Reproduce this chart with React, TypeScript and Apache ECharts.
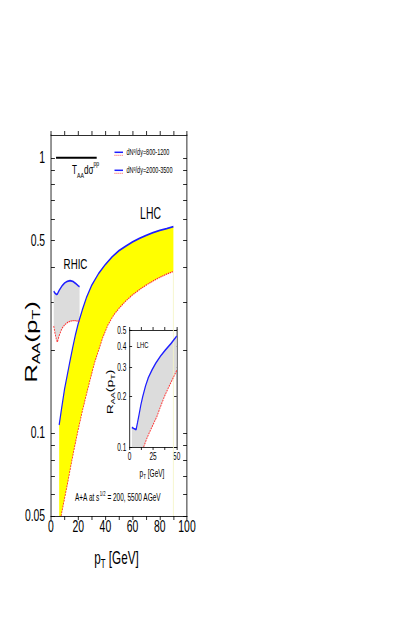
import React, { useEffect, useRef } from "react";
import * as echarts from "echarts";

// ---- data (values of R_AA) ----
const lhcLowDensPt = [6, 8, 10, 12, 14, 16, 18, 20, 23, 26, 30, 35, 40, 45, 50, 55, 60, 65, 70, 75, 80, 85, 90];
const lhcLowDensRaa = [0.107, 0.125, 0.145, 0.163, 0.183, 0.205, 0.228, 0.25, 0.28, 0.31, 0.345, 0.38, 0.41, 0.437, 0.46, 0.478, 0.495, 0.51, 0.523, 0.535, 0.545, 0.553, 0.562];
const lhcHighDensPt = [7.4, 10, 12.5, 15, 17.5, 20, 23, 26, 29, 32, 35, 38, 42, 46, 50, 55, 60, 65, 70, 75, 80, 85, 90];
const lhcHighDensRaa = [0.05, 0.058, 0.067, 0.078, 0.09, 0.103, 0.12, 0.138, 0.158, 0.18, 0.2, 0.222, 0.248, 0.268, 0.284, 0.302, 0.318, 0.332, 0.345, 0.357, 0.368, 0.378, 0.387];

const rhicPt = [2, 3, 4, 4.7, 6, 8, 10, 12, 14, 16, 18, 20, 21];
const rhicLowDensRaa = [0.328, 0.322, 0.319, 0.32, 0.33, 0.342, 0.351, 0.356, 0.358, 0.356, 0.35, 0.343, 0.34];
const rhicHighDensRaa = [0.245, 0.23, 0.218, 0.214, 0.226, 0.24, 0.247, 0.252, 0.255, 0.256, 0.256, 0.255, 0.255];

const insetLowDensPt = [2.5, 4.5, 7, 8.5, 10, 12, 14, 17, 20, 24, 28, 33, 38, 44, 50];
const insetLowDensRaa = [0.131, 0.129, 0.127, 0.14, 0.155, 0.178, 0.2, 0.232, 0.26, 0.29, 0.318, 0.35, 0.38, 0.415, 0.46];
const insetHighDensPt = [15, 18, 21, 25, 29, 33, 37, 41, 45, 50];
const insetHighDensRaa = [0.1, 0.111, 0.122, 0.136, 0.152, 0.175, 0.2, 0.225, 0.25, 0.287];

const taaPt = [3.7, 33.6];
const taaRaa = [1, 1];

const mainYLabels = [0.05, 0.1, 0.5, 1];
const mainYTicks = [0.05, 0.06, 0.07, 0.08, 0.09, 0.1, 0.2, 0.3, 0.4, 0.5, 0.6, 0.7, 0.8, 0.9, 1];
const mainXLabels = [0, 20, 40, 60, 80, 100];
const insetYLabels = [0.1, 0.2, 0.3, 0.4, 0.5];
const insetXLabels = [0, 25, 50];

// the original figure is horizontally compressed: draw wider, then squeeze
const S = 0.65;
const W = 638;
const H = 623;
const px = (x: number) => x / S;

const lg = (v: number) => Math.log10(v);
const pts = (xs: number[], vs: number[]) => xs.map((x, i) => [x, lg(vs[i])]);
const fmtLog = (v: number) => String(Number(Math.pow(10, v).toPrecision(2)));

const FONT = "'Liberation Sans', Arial, Helvetica, sans-serif";
const BLUE = "#1e1eff";
const RED = "#ff2a2a";

function band(
  upperX: number[], upperV: number[], lowerX: number[], lowerV: number[],
  floor: number, color: string, xi: number, yi: number
) {
  return {
    type: "custom",
    xAxisIndex: xi,
    yAxisIndex: yi,
    silent: true,
    z: 1,
    clip: true,
    data: [[upperX[0], lg(upperV[0])]],
    renderItem: (_p: any, api: any) => {
      const up = upperX.map((x, i) => api.coord([x, lg(upperV[i])]));
      const lo = lowerX.map((x, i) => api.coord([x, lg(Math.max(lowerV[i], floor))])).reverse();
      const points = [...up, ...lo];
      if (lowerX[0] > upperX[0]) points.push(api.coord([upperX[0], lg(floor)]));
      return { type: "polygon", shape: { points }, style: { fill: color, stroke: null } };
    },
  };
}

function line(xs: number[], vs: number[], color: string, width: number, type: any, xi: number, yi: number) {
  return {
    type: "line",
    xAxisIndex: xi,
    yAxisIndex: yi,
    data: pts(xs, vs),
    symbol: "none",
    z: 3,
    lineStyle: { color, width, type },
  };
}

const axisLine = { onZero: false, lineStyle: { color: "#000", width: 1 } };

function sty(size: number, sub: number, lh: number) {
  return {
    n: { fontSize: size, fontFamily: FONT, lineHeight: lh, verticalAlign: "middle", fill: "#000" },
    sub: { fontSize: sub, fontFamily: FONT, lineHeight: lh, verticalAlign: "bottom", fill: "#000" },
    sup: { fontSize: sub, fontFamily: FONT, lineHeight: lh, verticalAlign: "top", fill: "#000" },
  };
}

function richText(x: number, y: number, text: string, rich: any, extra: any = {}) {
  const align = extra.align || "left";
  const { align: _a, ...rest } = extra;
  return {
    type: "text",
    x,
    y,
    z: 10,
    ...rest,
    style: {
      text,
      rich,
      fill: "#000",
      fontFamily: FONT,
      textAlign: align,
      align,
      textVerticalAlign: "middle",
      verticalAlign: "middle",
    },
  };
}

export default function App() {
  const ref = useRef<HTMLDivElement>(null);
  useEffect(() => {
    if (!ref.current) return;
    const chart = echarts.init(ref.current, undefined, { renderer: "svg" });
    const tickStyle = { color: "#000", width: 1 };
    const option: any = {
      animation: false,
      backgroundColor: "#fff",
      grid: [
        { left: px(51), top: 135, width: px(136), height: 381, outerBoundsMode: "none" },
        { left: px(129.5), top: 330, width: px(47.2), height: 117, outerBoundsMode: "none" },
      ],
      xAxis: [
        {
          gridIndex: 0, type: "value", min: 0, max: 100, interval: 10, position: "bottom",
          axisLine, splitLine: { show: false },
          axisTick: { inside: false, length: 4, lineStyle: tickStyle },
          axisLabel: { customValues: mainXLabels, color: "#000", fontSize: 16, fontFamily: FONT, margin: 3 },
        },
        {
          gridIndex: 0, type: "value", min: 0, max: 100, interval: 10, position: "top",
          axisLine, splitLine: { show: false },
          axisTick: { inside: false, length: 4, lineStyle: tickStyle },
          axisLabel: { show: false },
        },
        {
          gridIndex: 1, type: "value", min: 0, max: 50, interval: 12.5, position: "bottom",
          axisLine, splitLine: { show: false },
          axisTick: { inside: false, length: 3, lineStyle: tickStyle },
          axisLabel: { customValues: insetXLabels, color: "#000", fontSize: 10, fontFamily: FONT, margin: 4 },
        },
        {
          gridIndex: 1, type: "value", min: 0, max: 50, interval: 12.5, position: "top",
          axisLine, splitLine: { show: false },
          axisTick: { inside: false, length: 3, lineStyle: tickStyle },
          axisLabel: { show: false },
        },
      ],
      yAxis: [
        {
          gridIndex: 0, type: "value", min: lg(0.05), max: lg(1.21), position: "left",
          axisLine, splitLine: { show: false },
          axisTick: { inside: true, length: 6, customValues: mainYTicks.map(lg), lineStyle: tickStyle },
          axisLabel: { customValues: mainYLabels.map(lg), formatter: fmtLog, color: "#000", fontSize: 16, fontFamily: FONT, margin: 9 },
        },
        {
          gridIndex: 0, type: "value", min: lg(0.05), max: lg(1.21), position: "right",
          axisLine, splitLine: { show: false },
          axisTick: { inside: true, length: 6, customValues: mainYTicks.map(lg), lineStyle: tickStyle },
          axisLabel: { show: false },
        },
        {
          gridIndex: 1, type: "value", min: lg(0.1), max: lg(0.5), position: "left",
          axisLine, splitLine: { show: false },
          axisTick: { inside: true, length: 4, customValues: insetYLabels.map(lg), lineStyle: tickStyle },
          axisLabel: { customValues: insetYLabels.map(lg), formatter: fmtLog, color: "#000", fontSize: 10, fontFamily: FONT, margin: 5 },
        },
        {
          gridIndex: 1, type: "value", min: lg(0.1), max: lg(0.5), position: "right",
          axisLine, splitLine: { show: false },
          axisTick: { inside: true, length: 4, customValues: insetYLabels.map(lg), lineStyle: tickStyle },
          axisLabel: { show: false },
        },
      ],
      series: [
        band(lhcLowDensPt, lhcLowDensRaa, lhcHighDensPt, lhcHighDensRaa, 0.05, "#ffff00", 0, 0),
        band(rhicPt, rhicLowDensRaa, rhicPt, rhicHighDensRaa, 0.05, "#dcdcdc", 0, 0),
        band(insetLowDensPt, insetLowDensRaa, insetHighDensPt, insetHighDensRaa, 0.1, "#dcdcdc", 2, 2),
        line([90, 90], [0.05, lhcHighDensRaa[lhcHighDensRaa.length - 1]], "#f4f4c4", 1, "solid", 0, 0),
        line(lhcLowDensPt, lhcLowDensRaa, BLUE, 1.8, "solid", 0, 0),
        line(lhcHighDensPt, lhcHighDensRaa, RED, 1.3, [2, 1], 0, 0),
        line(rhicPt, rhicLowDensRaa, BLUE, 1.8, "solid", 0, 0),
        line(rhicPt, rhicHighDensRaa, RED, 1.3, [2, 1], 0, 0),
        line(insetLowDensPt, insetLowDensRaa, BLUE, 1.8, "solid", 2, 2),
        line(insetHighDensPt, insetHighDensRaa, RED, 1.3, [2, 1], 2, 2),
        line(taaPt, taaRaa, "#000", 2, "solid", 0, 0),
      ],
      graphic: [
        // axis titles
        richText(px(31), 342, "{n|R}{sub|AA}{n|(p}{sub|T}{n|)}", sty(26, 16, 34), { rotation: Math.PI / 2, align: "center" }),
        richText(px(116.5), 557, "{n|p}{sub|T}{n| [GeV]}", sty(18, 12, 26), { align: "center" }),
        // inset titles
        richText(px(110), 392, "{n|R}{sub|AA}{n|(p}{sub|T}{n|)}", sty(14, 9, 18), { rotation: Math.PI / 2, align: "center" }),
        richText(px(152), 473, "{n|p}{sub|T}{n| [GeV]}", sty(10, 7, 14), { align: "center" }),
        richText(px(142.5), 345, "{n|LHC}", sty(9, 6, 12), { align: "center" }),
        // annotations
        richText(px(150.5), 214, "{n|LHC}", sty(16, 10, 20), { align: "center" }),
        richText(px(75.5), 264, "{n|RHIC}", sty(15, 10, 20), { align: "center" }),
        richText(px(72), 169, "{n|T}{sub|AA}{n|dσ}{sup|pp}", sty(12.5, 8, 20)),
        richText(px(75), 497, "{n|A+A at s}{sup|1/2}{n| = 200, 5500 AGeV}", sty(10, 6.5, 14)),
        // legend
        { type: "line", shape: { x1: px(114.5), y1: 152.3, x2: px(123), y2: 152.3 }, style: { stroke: BLUE, lineWidth: 1.5 } },
        { type: "line", shape: { x1: px(114.5), y1: 155.3, x2: px(123), y2: 155.3 }, style: { stroke: RED, lineWidth: 1, lineDash: [1.5, 1.5] } },
        richText(px(126.5), 153, "{n|dN}{sup|g}{n|/dy=800-1200}", sty(8.5, 5.5, 12)),
        { type: "line", shape: { x1: px(114.5), y1: 170.3, x2: px(123), y2: 170.3 }, style: { stroke: BLUE, lineWidth: 1.5 } },
        { type: "line", shape: { x1: px(114.5), y1: 173.3, x2: px(123), y2: 173.3 }, style: { stroke: RED, lineWidth: 1, lineDash: [1.5, 1.5] } },
        richText(px(126.5), 171, "{n|dN}{sup|g}{n|/dy=2000-3500}", sty(8.5, 5.5, 12)),
      ],
    };
    chart.setOption(option);
    return () => chart.dispose();
  }, []);
  return (
    <div
      ref={ref}
      style={{
        position: "fixed",
        left: 0,
        top: 0,
        width: W,
        height: H,
        transform: `scaleX(${S})`,
        transformOrigin: "0 0",
      }}
    />
  );
}
